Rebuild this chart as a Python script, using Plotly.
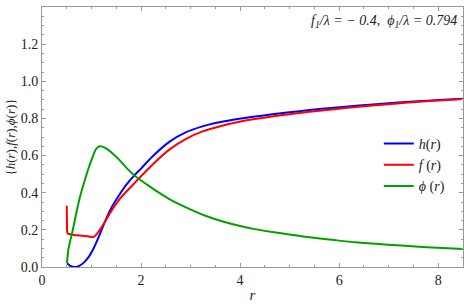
import plotly.graph_objects as go

# h(r)
r_h = [0.505, 0.56, 0.62, 0.68, 0.75, 0.85, 0.95, 1.05, 1.15, 1.28, 1.40, 1.556, 1.70, 1.86, 2.00, 2.23, 2.57, 2.90, 3.24, 3.58, 3.98, 4.30, 4.65, 4.99, 5.40, 5.90, 6.34, 7.00, 7.68, 8.10, 8.50]
h = [0.020, 0.008, 0.002, 0.000, 0.006, 0.025, 0.057, 0.105, 0.165, 0.250, 0.318, 0.386, 0.442, 0.492, 0.530, 0.595, 0.674, 0.725, 0.757, 0.779, 0.798, 0.810, 0.822, 0.833, 0.845, 0.858, 0.868, 0.882, 0.894, 0.900, 0.906]

# f(r)
r_f = [0.500, 0.503, 0.508, 0.52, 0.61, 0.71, 0.81, 0.92, 1.02, 1.07, 1.12, 1.20, 1.28, 1.40, 1.556, 1.70, 1.96, 2.23, 2.57, 2.90, 3.24, 3.58, 3.98, 4.30, 4.65, 4.99, 5.40, 5.90, 6.34, 7.00, 7.68, 8.10, 8.50]
f = [0.330, 0.260, 0.190, 0.180, 0.174, 0.171, 0.168, 0.165, 0.161, 0.167, 0.183, 0.212, 0.248, 0.302, 0.362, 0.405, 0.478, 0.551, 0.632, 0.689, 0.730, 0.757, 0.782, 0.797, 0.811, 0.823, 0.836, 0.850, 0.862, 0.877, 0.891, 0.898, 0.904]

# phi(r)
r_p = [0.505, 0.53, 0.56, 0.61, 0.68, 0.75, 0.85, 0.95, 1.02, 1.08, 1.13, 1.17, 1.22, 1.30, 1.42, 1.556, 1.70, 1.86, 1.96, 2.15, 2.36, 2.57, 2.95, 3.30, 3.65, 3.98, 4.30, 4.65, 4.99, 5.40, 5.90, 6.34, 7.00, 7.68, 8.10, 8.50]
phi = [0.020, 0.090, 0.130, 0.185, 0.275, 0.360, 0.455, 0.540, 0.590, 0.630, 0.645, 0.650, 0.648, 0.637, 0.612, 0.578, 0.535, 0.494, 0.474, 0.438, 0.400, 0.366, 0.316, 0.276, 0.245, 0.222, 0.204, 0.188, 0.175, 0.160, 0.145, 0.133, 0.120, 0.108, 0.102, 0.097]

x_ticks = [0, 2, 4, 6, 8]
y_ticks = [0.0, 0.2, 0.4, 0.6, 0.8, 1.0, 1.2, 1.4]
y_tick_labels = ["0.0", "0.2", "0.4", "0.6", "0.8", "1.0", "1.2", "1.4"]

serif = "Liberation Serif"
fig = go.Figure()
fig.add_trace(go.Scatter(x=r_h, y=h, mode="lines", name="<i>h</i>(<i>r</i>)",
                         line=dict(color="#0000FF", width=2, shape="spline", smoothing=0.6)))
fig.add_trace(go.Scatter(x=r_f, y=f, mode="lines", name="<i>f</i> (<i>r</i>)",
                         line=dict(color="#FF0000", width=2, shape="spline", smoothing=0.4)))
fig.add_trace(go.Scatter(x=r_p, y=phi, mode="lines", name="<i>ϕ</i> (<i>r</i>)",
                         line=dict(color="#00A000", width=2, shape="spline", smoothing=0.8)))

axis_common = dict(
    showgrid=False, zeroline=False, showline=True, linecolor="#999999", linewidth=1,
    mirror="ticks", ticks="inside", ticklen=4, tickcolor="#999999",
    tickfont=dict(family=serif, size=14, color="#222222"),
    automargin=False,
)
fig.update_xaxes(range=[0, 8.5], tickvals=x_ticks,
                 minor=dict(ticks="inside", ticklen=2, dtick=0.5, tickcolor="#999999"),
                 title=dict(text="<i>r</i>", font=dict(family=serif, size=15, color="#222222"), standoff=2),
                 **axis_common)
fig.update_yaxes(range=[0, 1.4], tickvals=y_ticks, ticktext=y_tick_labels,
                 minor=dict(ticks="inside", ticklen=2, dtick=0.05, tickcolor="#999999"),
                 title=dict(text="{<i>h</i>(<i>r</i>),<i>f</i>(<i>r</i>),<i>ϕ</i>(<i>r</i>)}",
                            font=dict(family=serif, size=13, color="#222222"), standoff=2),
                 **axis_common)

fig.add_annotation(xref="paper", yref="paper", x=0.99, y=0.985, xanchor="right", yanchor="top",
                   showarrow=False,
                   text="<i>f<sub>1</sub>/λ = − 0.4,  ϕ<sub>1</sub>/λ = 0.794</i>",
                   font=dict(family=serif, size=14, color="#222222"))

fig.update_layout(
    width=464, height=306,
    margin=dict(l=42, r=1, t=7, b=39),
    plot_bgcolor="white", paper_bgcolor="white",
    showlegend=True,
    legend=dict(x=0.80, y=0.535, xanchor="left", yanchor="top", bgcolor="rgba(0,0,0,0)",
                font=dict(family=serif, size=14, color="#222222"),
                itemwidth=30, tracegroupgap=0),
)
fig.write_html("out.html", config={"displayModeBar": False})

with open("out.html", "r", encoding="utf-8") as fh:
    page = fh.read()
page = page.replace("<body>", '<body style="margin:0;padding:0;overflow:hidden">', 1)
with open("out.html", "w", encoding="utf-8") as fh:
    fh.write(page)
